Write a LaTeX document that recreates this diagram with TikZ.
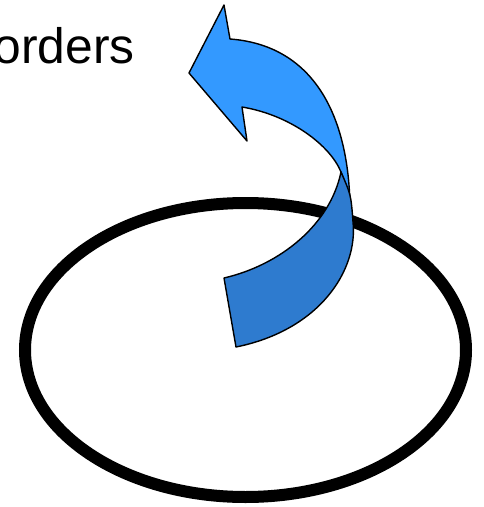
\documentclass[tikz,border=0pt]{standalone}
\usepackage{fontspec}
\setmainfont{Liberation Sans}
\definecolor{lightblue}{HTML}{3399FF}
\definecolor{darkblue}{HTML}{2E7BCF}

\begin{document}
\begin{tikzpicture}[x=0.025cm,y=-0.025cm,
  ring/.style={draw=black,line width=0.3cm},
  band/.style={draw=black,line width=1pt,line join=round}]
  \clip (0,0) rectangle (483,507);
  % label, cut at the left
  \node[anchor=base east,inner sep=0pt,font=\fontsize{35.4}{40}\selectfont] (lbl) at (135,63.5) {orders};
  % ellipse
  \draw[ring] (245.5,350) ellipse [x radius=220.5, y radius=147];
  % upper part of the arrow, with the head
  \draw[band,fill=lightblue] (350,205) .. controls (348,110) and (310,45) .. (230,39)
    -- (224,5) -- (189,73) -- (247,141) -- (242,107)
    .. controls (290,115) and (330,145) .. (341,172)
    .. controls (346,185) .. (350,205) -- cycle;
  % lower part of the arrow
  \draw[band,fill=darkblue] (224,278) -- (236,347)
    .. controls (320,330) and (358,270) .. (353,222)
    .. controls (351,195) .. (341,172)
    .. controls (330,225) and (280,265) .. (224,278) -- cycle;
\end{tikzpicture}
\end{document}
